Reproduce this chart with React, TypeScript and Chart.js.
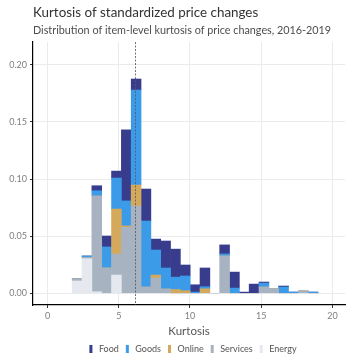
import React, { useEffect, useRef } from 'react';
import { Chart, registerables } from 'chart.js';

Chart.register(...registerables);

const TITLE = 'Kurtosis of standardized price changes';
const SUBTITLE = 'Distribution of item-level kurtosis of price changes, 2016-2019';
const X_TITLE = 'Kurtosis';
const MEAN_KURTOSIS = 6.15;

// Histogram bin centres (kurtosis)
const binCenters = [
  2.08, 2.77, 3.46, 4.15, 4.84, 5.53, 6.22, 6.91, 7.6, 8.29, 8.98, 9.67, 10.36,
  11.05, 11.74, 12.43, 13.12, 13.81, 14.5, 15.19, 15.88, 16.57, 17.26, 17.95, 18.64,
];

const food = [
  0, 0, 0.0044, 0.0096, 0.0061, 0.0622, 0.0096, 0.028, 0.0096, 0.0236, 0.0245, 0.0096, 0.0064,
  0.0164, 0, 0.0079, 0.014, 0.0011, 0.0081, 0.0009, 0, 0.0009, 0, 0, 0,
];
const goods = [
  0, 0.0012, 0.0046, 0.0184, 0.0271, 0.0219, 0.0832, 0.0578, 0.0219, 0.0184, 0.0109, 0.0129, 0.0011,
  0.0018, 0, 0.0018, 0.0046, 0, 0, 0.0035, 0, 0.0055, 0.0011, 0, 0.0011,
];
const online = [
  0, 0, 0, 0, 0.0394, 0.0012, 0.0184, 0, 0.0026, 0, 0.0033, 0.0023, 0,
  0.004, 0, 0, 0, 0, 0, 0, 0, 0, 0, 0, 0,
];
const services = [
  0.002, 0.0012, 0.0838, 0.0222, 0.0184, 0.0578, 0.0764, 0.0055, 0.0134, 0.0038, 0, 0, 0,
  0, 0, 0.0327, 0, 0, 0, 0.0055, 0.0038, 0, 0, 0.002, 0,
];
const energy = [
  0.0108, 0.0303, 0.0014, 0, 0.016, 0, 0, 0, 0, 0, 0, 0, 0,
  0, 0, 0, 0, 0, 0, 0, 0, 0, 0, 0, 0,
];

const seriesNames = ['Food', 'Goods', 'Online', 'Services', 'Energy'];
const seriesColors = ['#383c8c', '#3b9be8', '#d4a95c', '#a8b3c2', '#e5e9ef'];

const X_MIN = -1.0175;
const X_MAX = 20.88;
const Y_MIN = -0.0102;
const Y_MAX = 0.22;

const FONT = 'Lato';

const titlePlugin = {
  id: 'customTitle',
  afterDraw(chart: any) {
    const { ctx, chartArea } = chart;
    ctx.save();
    ctx.textAlign = 'left';
    ctx.textBaseline = 'alphabetic';
    ctx.fillStyle = '#333333';
    ctx.font = `13.4px ${FONT}`;
    ctx.fillText(TITLE, chartArea.left, 16.7);
    ctx.fillStyle = '#4d4d4d';
    ctx.font = `10.8px ${FONT}`;
    ctx.fillText(SUBTITLE, chartArea.left, 34.3);
    ctx.restore();
  },
};

const legendPlugin = {
  id: 'customLegend',
  afterDraw(chart: any) {
    const { ctx, chartArea } = chart;
    const keyW = 3;
    const keyH = 8;
    const keyGap = 6.5;
    const itemGap = 7;
    const cy = 349;
    ctx.save();
    ctx.font = `9px ${FONT}`;
    const widths = seriesNames.map((n) => ctx.measureText(n).width);
    const total =
      widths.reduce((a, w) => a + keyW + keyGap + w, 0) + itemGap * (seriesNames.length - 1);
    let x = (chartArea.left + chartArea.right) / 2 + 4 - total / 2;
    ctx.textBaseline = 'middle';
    ctx.textAlign = 'left';
    seriesNames.forEach((n, i) => {
      ctx.fillStyle = seriesColors[i];
      ctx.fillRect(x, cy - keyH / 2, keyW, keyH);
      x += keyW + keyGap;
      ctx.fillStyle = '#555555';
      ctx.fillText(n, x, cy + 0.5);
      x += widths[i] + itemGap;
    });
    ctx.restore();
  },
};

const meanLinePlugin = {
  id: 'meanLine',
  afterDatasetsDraw(chart: any) {
    const { ctx, chartArea, scales } = chart;
    const x = Math.round(scales.x.getPixelForValue(MEAN_KURTOSIS)) + 0.5;
    ctx.save();
    ctx.strokeStyle = 'rgba(90,90,90,0.85)';
    ctx.lineWidth = 1;
    ctx.setLineDash([2, 1.5]);
    ctx.beginPath();
    ctx.moveTo(x, chartArea.top);
    ctx.lineTo(x, chartArea.bottom);
    ctx.stroke();
    ctx.restore();
  },
};

export default function App() {
  const canvasRef = useRef<HTMLCanvasElement | null>(null);

  useEffect(() => {
    if (!canvasRef.current) return;
    const mk = (label: string, values: number[], color: string) => ({
      label,
      data: binCenters.map((x, i) => ({ x, y: values[i] })),
      backgroundColor: color,
      borderWidth: 0,
      stack: 'all',
      barPercentage: 1,
      categoryPercentage: 1,
    });
    const idx = (n: string) => seriesNames.indexOf(n);
    const chart = new Chart(canvasRef.current, {
      type: 'bar',
      data: {
        datasets: [
          mk('Energy', energy, seriesColors[idx('Energy')]),
          mk('Services', services, seriesColors[idx('Services')]),
          mk('Online', online, seriesColors[idx('Online')]),
          mk('Goods', goods, seriesColors[idx('Goods')]),
          mk('Food', food, seriesColors[idx('Food')]),
        ],
      },
      options: {
        animation: false,
        responsive: false,
        devicePixelRatio: 1,
        layout: { padding: { top: 42, right: 1, left: 0, bottom: 17 } },
        font: { family: FONT },
        plugins: {
          tooltip: { enabled: false },
          title: { display: false },
          legend: { display: false },
        },
        scales: {
          x: {
            type: 'linear',
            min: X_MIN,
            max: X_MAX,
            offset: false,
            ticks: {
              stepSize: 5,
              includeBounds: false,
              color: '#808080',
              font: { family: FONT, size: 9 },
              padding: 3,
              maxRotation: 0,
            },
            grid: { offset: false, color: '#ebebeb', tickColor: '#333333', tickLength: 3 },
            border: { display: true, color: '#000000', width: 1.2 },
            title: {
              display: true,
              text: X_TITLE,
              color: '#555555',
              font: { family: FONT, size: 11.5 },
              padding: { top: 4, bottom: 0 },
            },
            afterFit: (s: any) => {
              s.height = 33;
            },
          },
          y: {
            type: 'linear',
            min: Y_MIN,
            max: Y_MAX,
            stacked: true,
            ticks: {
              stepSize: 0.05,
              includeBounds: false,
              color: '#808080',
              font: { family: FONT, size: 9 },
              padding: 3,
              callback: (v: any) => Number(v).toFixed(2),
            },
            grid: { color: '#ebebeb', tickColor: '#333333', tickLength: 3 },
            border: { display: true, color: '#000000', width: 1.2 },
            afterFit: (s: any) => {
              s.width = 33;
            },
          },
        },
      } as any,
      plugins: [titlePlugin, meanLinePlugin, legendPlugin],
    });
    return () => chart.destroy();
  }, []);

  return (
    <div style={{ position: 'absolute', left: 0, top: 0, width: 346, height: 355, background: '#fff' }}>
      <canvas ref={canvasRef} width={346} height={355} />
    </div>
  );
}
